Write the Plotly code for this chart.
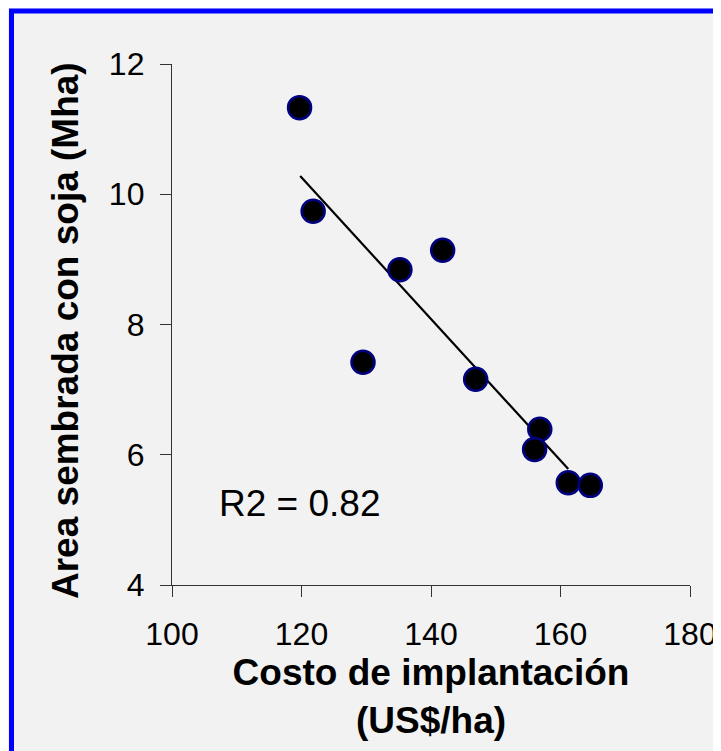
import plotly.graph_objects as go

# Data
costo = [119.7, 121.8, 129.5, 135.2, 141.8, 146.9, 156.8, 156.0, 161.2, 164.6]
area = [11.33, 9.74, 7.42, 8.84, 9.14, 7.16, 6.39, 6.08, 5.57, 5.53]

# Linear trend line endpoints (as drawn in the reference)
trend_x = [119.8, 161.2]
trend_y = [10.28, 5.78]

x_ticks = [100, 120, 140, 160, 180]
y_ticks = [4, 6, 8, 10, 12]

r2_text = "R2 = 0.82"
x_title = "<b>Costo de implantación<br>(US$/ha)</b>"
y_title = "<b>Area sembrada con soja (Mha)</b>"

# page has an 8px body margin, so the figure is laid out 8px up/left
OFF = 8
W, H = 713, 743
L, R, T, B = 164, 31, 56, 166
pw, ph = W - L - R, H - T - B

FONT = "Liberation Sans, Arial, sans-serif"


def sx(p):
    """screen x pixel -> paper x"""
    return (p - OFF - L) / pw


def sy(p):
    """screen y pixel -> paper y"""
    return (H - B - (p - OFF)) / ph


fig = go.Figure()
fig.add_trace(go.Scatter(
    x=trend_x, y=trend_y, mode="lines",
    line=dict(color="black", width=2.2), showlegend=False, hoverinfo="skip"))
fig.add_trace(go.Scatter(
    x=costo, y=area, mode="markers",
    marker=dict(size=23, color="black", line=dict(color="#000080", width=2.5)),
    showlegend=False))

fig.add_annotation(x=107, y=5.25, xref="x", yref="y", text=r2_text,
                   showarrow=False, xanchor="left", yanchor="middle",
                   font=dict(family=FONT, size=37, color="black"))

# y-axis title
fig.add_annotation(x=sx(65), y=sy(331), xref="paper", yref="paper",
                   text=y_title, textangle=-90, showarrow=False,
                   xanchor="center", yanchor="middle",
                   font=dict(family=FONT, size=37, color="black"))

# Blue frame (open at the bottom of the picture)
fig.add_shape(type="rect", xref="paper", yref="paper",
              x0=sx(11.5), x1=sx(719.5), y0=sy(820), y1=sy(11),
              line=dict(color="#0000ff", width=5), fillcolor="rgba(0,0,0,0)",
              layer="below")

axis_common = dict(showgrid=False, zeroline=False, showline=True,
                   linecolor="#333333", linewidth=1.3, ticks="outside",
                   ticklen=11, tickcolor="#333333", tickwidth=1.3,
                   tickfont=dict(family=FONT, size=32, color="black"))

fig.update_xaxes(range=[100, 180], tickvals=x_ticks, ticklabelstandoff=9,
                 title=dict(text=x_title,
                            font=dict(family=FONT, size=37, color="black"),
                            standoff=2),
                 **axis_common)
fig.update_yaxes(range=[4, 12], tickvals=y_ticks, ticklabelstandoff=9,
                 **axis_common)

fig.update_layout(width=W, height=H,
                  margin=dict(l=L, r=R, t=T, b=B, autoexpand=False),
                  paper_bgcolor="#f2f2f2", plot_bgcolor="#f2f2f2")

fig.write_html("out.html")
